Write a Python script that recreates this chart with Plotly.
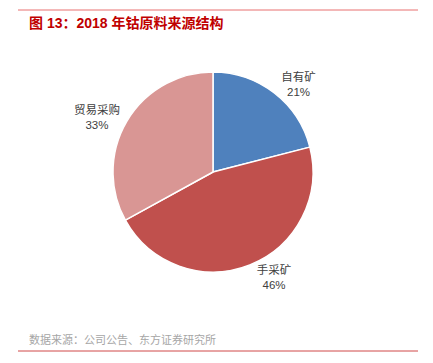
import plotly.graph_objects as go

labels = ["自有矿", "手采矿", "贸易采购"]
values = [21, 46, 33]
colors = ["#4F81BD", "#C0504D", "#D99694"]
title = "图 13：2018 年钴原料来源结构"
source = "数据来源：公司公告、东方证券研究所"

# page body has an 8px default margin; work in figure coordinates offset by it
OFF = 8
W, H = 433 - 2 * OFF, 363 - 2 * OFF

def px(x):
    return (x - OFF) / W

def py(y):
    return 1 - (y - OFF) / H

fig = go.Figure(go.Pie(
    labels=labels, values=values, sort=False, direction="clockwise", rotation=0,
    marker=dict(colors=colors, line=dict(color="white", width=1.5)),
    texttemplate="%{label}<br>%{percent:.0%}", textposition="outside",
    textfont=dict(family="Liberation Sans, Noto Sans CJK SC", size=11.5, color="#404040"),
    domain=dict(x=[px(113), px(313)], y=[py(272), py(72)]),
    showlegend=False, hoverinfo="skip",
))
fig.update_layout(
    width=W, height=H, margin=dict(l=0, r=0, t=0, b=0),
    paper_bgcolor="white", plot_bgcolor="white",
    shapes=[
        dict(type="line", xref="paper", yref="paper", x0=px(18), x1=px(418), y0=py(10), y1=py(10),
             line=dict(color="#E87070", width=1)),
        dict(type="line", xref="paper", yref="paper", x0=px(18), x1=px(418), y0=py(351), y1=py(351),
             line=dict(color="#D04848", width=1)),
    ],
    annotations=[
        dict(text="<b>" + title + "</b>", xref="paper", yref="paper", x=px(27), y=py(23),
             xanchor="left", yanchor="middle", showarrow=False,
             font=dict(family="Liberation Sans, Noto Sans CJK SC", size=14, color="#C00000")),
        dict(text=source, xref="paper", yref="paper", x=px(27), y=py(339),
             xanchor="left", yanchor="middle", showarrow=False,
             font=dict(family="Noto Sans CJK SC", size=11, color="#A6A6A6")),
    ],
)
fig.write_html("out.html")
